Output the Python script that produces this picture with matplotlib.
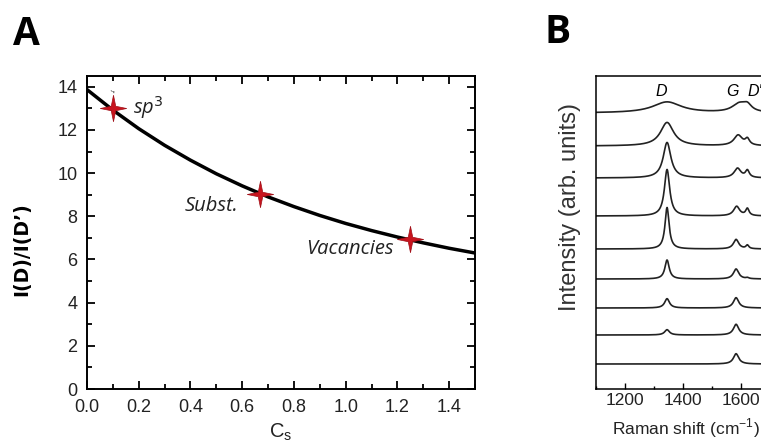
import numpy as np
import matplotlib
matplotlib.use('Agg')
import matplotlib.pyplot as plt
from matplotlib.path import Path
from matplotlib.ticker import MultipleLocator

plt.rcParams['font.family'] = ['Liberation Sans', 'DejaVu Sans']

# panel A: ratio curve and defect points
cs = [0.0, 0.1, 0.2, 0.3, 0.4, 0.5, 0.6, 0.7, 0.8, 0.9, 1.0, 1.1, 1.2, 1.3, 1.4, 1.5]
ratio = [13.87, 12.92, 12.06, 11.29, 10.60, 9.97, 9.41, 8.90, 8.45, 8.04, 7.67, 7.34, 7.04, 6.77, 6.52, 6.30]
point_cs = [0.10, 0.67, 1.25]
point_ratio = [13.0, 9.05, 6.96]
point_labels = ['sp$^3$', 'Subst.', 'Vacancies']
label_x = [0.177, 0.378, 0.848]
label_y = [13.05, 8.47, 6.5]

# panel B: Raman spectra, top to bottom (peak heights in arb. units)
offsets = [276, 243, 211, 173, 140, 110, 81, 54, 25]
d_pos = [1345, 1345, 1345, 1345, 1345, 1345, 1345, 1345, 1345]
d_height = [11.0, 23.5, 35.5, 46.5, 41.5, 19.0, 9.3, 5.3, 0.0]
d_fwhm = [120, 55, 32, 22, 17, 18, 20, 20, 20]
g_pos = [1594, 1590, 1588, 1585, 1583, 1583, 1583, 1583, 1583]
g_height = [8.5, 10.5, 9.5, 9.5, 9.5, 10.0, 10.3, 10.7, 10.3]
g_fwhm = [60, 35, 28, 25, 22, 22, 22, 22, 22]
dp_pos = [1622, 1622, 1622, 1622, 1622, 1622, 1622, 1622, 1622]
dp_height = [6.0, 6.0, 7.0, 7.0, 3.5, 1.0, 0.0, 0.0, 0.0]
dp_fwhm = [35, 18, 16, 14, 12, 12, 12, 12, 12]


def lorentz(x, x0, h, w):
    return h / (1 + ((x - x0) / (w / 2.0)) ** 2)


star = Path([(0, 1), (0.17, 0.17), (1, 0), (0.17, -0.17), (0, -1),
             (-0.17, -0.17), (-1, 0), (-0.17, 0.17), (0, 1)],
            [Path.MOVETO] + [Path.LINETO] * 7 + [Path.CLOSEPOLY])

fig = plt.figure(figsize=(7.61, 4.46), dpi=100)

axA = fig.add_axes([87 / 761, 57 / 446, 388 / 761, 313 / 446])
axA.plot(cs, ratio, color='black', lw=2.5, zorder=2)
axA.plot(point_cs, point_ratio, ls='none', marker=star, ms=19,
         color='#c8141e', mec='#a01018', mew=0.5, zorder=3)
for t, x, y in zip(point_labels, label_x, label_y):
    axA.text(x, y, t, fontsize=14.5, style='italic', family='Open Sans',
             va='center', ha='left', color='#222222')
axA.text(0.085, 13.45, "`'", fontsize=8, color='#333333')
axA.set_xlim(0, 1.5)
axA.set_ylim(0, 14.5)
axA.xaxis.set_major_locator(MultipleLocator(0.2))
axA.xaxis.set_minor_locator(MultipleLocator(0.1))
axA.yaxis.set_major_locator(MultipleLocator(2))
axA.yaxis.set_minor_locator(MultipleLocator(1))
axA.tick_params(which='both', direction='in', top=True, right=True,
                width=1.3, labelsize=13, pad=7, labelcolor='#222222')
axA.tick_params(which='major', length=6)
axA.tick_params(which='minor', length=3.5)
for s in axA.spines.values():
    s.set_linewidth(1.4)
axA.set_xlabel('C$_\\mathregular{s}$', fontsize=14.5, labelpad=4, color='#222222')
axA.set_ylabel('I(D)/I(D\u2019)', fontsize=13.5, fontweight='bold',
               family='DejaVu Sans')
axA.yaxis.set_label_coords(-0.143, 0.447)

axB = fig.add_axes([596 / 761, 57 / 446, 203 / 761, 313 / 446])
x = np.linspace(1100, 1800, 1401)
for i in range(len(offsets)):
    y = (offsets[i] + lorentz(x, d_pos[i], d_height[i], d_fwhm[i])
         + lorentz(x, g_pos[i], g_height[i], g_fwhm[i])
         + lorentz(x, dp_pos[i], dp_height[i], dp_fwhm[i]))
    axB.plot(x, y, color='#222222', lw=1.2)
axB.text(1326, 293, 'D', fontsize=11.5, style='italic', ha='center', va='baseline')
axB.text(1571, 293, 'G', fontsize=11.5, style='italic', ha='center', va='baseline')
axB.text(1623, 293, "D'", fontsize=11.5, style='italic', ha='left', va='baseline')
axB.set_xlim(1100, 1800)
axB.set_ylim(0, 313)
axB.set_yticks([])
axB.spines['right'].set_visible(False)
axB.set_xticks([1200, 1400, 1600])
axB.xaxis.set_minor_locator(MultipleLocator(100))
axB.tick_params(which='both', direction='in', labelsize=12.5, pad=3, width=1,
                labelcolor='#222222')
axB.tick_params(which='major', length=4.5)
axB.tick_params(which='minor', length=2.5)
for s in axB.spines.values():
    s.set_linewidth(1.1)
axB.set_xlabel('Raman shift (cm$^{\\mathregular{-1}}$)', fontsize=12.5, color='#222222')
axB.xaxis.set_label_coords(0.443, -0.088)
axB.set_ylabel('Intensity (arb. units)', fontsize=17, color='#333333')
axB.yaxis.set_label_coords(-0.075, 0.58)

fig.text(13 / 761, 1 - 45 / 446, 'A', fontsize=28, fontweight='bold',
         family='Open Sans', va='baseline')
fig.text(545 / 761, 1 - 43 / 446, 'B', fontsize=28, fontweight='bold',
         family='Open Sans', va='baseline')

fig.savefig('out.png', dpi=100)
